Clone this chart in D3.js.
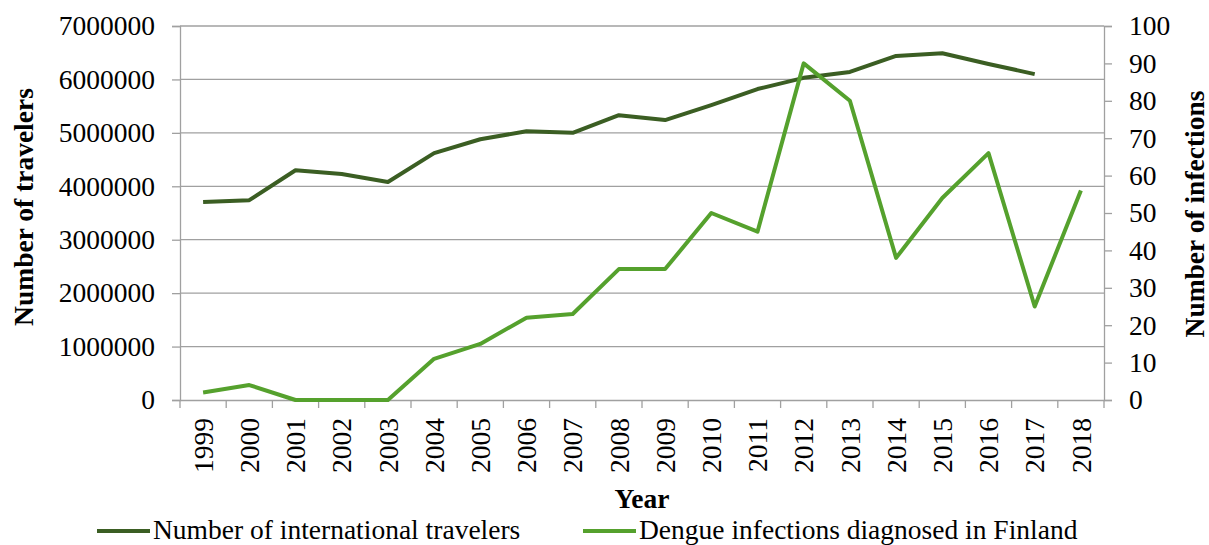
<!DOCTYPE html>
<html><head><meta charset="utf-8">
<script src="https://cdn.jsdelivr.net/npm/d3@7"></script>
<style>body{margin:0;background:#fff}svg{display:block}text{font-family:"Liberation Serif","Times New Roman",serif;fill:#000}</style>
</head><body><svg id="c" width="1209" height="545"></svg>
<script>
const years = ["1999","2000","2001","2002","2003","2004","2005","2006","2007","2008","2009","2010","2011","2012","2013","2014","2015","2016","2017","2018"];
const travelers = [3706000,3740000,4300000,4230000,4080000,4620000,4880000,5030000,5000000,5330000,5240000,5520000,5820000,6030000,6140000,6440000,6490000,6290000,6100000,null];
const dengue = [2,4,0,0,0,11,15,22,23,35,35,50,45,90,80,38,54,66,25,56];
const leftTicks = [0,1000000,2000000,3000000,4000000,5000000,6000000,7000000];
const rightTicks = [0,10,20,30,40,50,60,70,80,90,100];
const seriesNames = ["Number of international travelers","Dengue infections diagnosed in Finland"];
const colors = ["#3b5e23","#55a12d"];

const svg = d3.select("#c");
const L=180, R=1104, T=26, B=400;
const FS=27.5;
const x = d3.scaleBand().domain(years).range([L,R]);
const yL = d3.scaleLinear().domain([0,7000000]).range([B,T]);
const yR = d3.scaleLinear().domain([0,100]).range([B,T]);
const grid="#a0a0a0";

svg.append("g").selectAll("line").data(leftTicks.slice(1)).join("line")
  .attr("x1",L).attr("x2",R).attr("y1",d=>yL(d)).attr("y2",d=>yL(d))
  .attr("stroke",grid).attr("stroke-width",1.3);

const gl = svg.append("g").attr("transform",`translate(${L},0)`)
  .call(d3.axisLeft(yL).tickValues(leftTicks).tickFormat(d3.format("d")).tickSize(8).tickPadding(17));
gl.selectAll("text").attr("font-size",FS).style("font-family","Liberation Serif");
const gr = svg.append("g").attr("transform",`translate(${R},0)`)
  .call(d3.axisRight(yR).tickValues(rightTicks).tickSize(8).tickPadding(17));
gr.selectAll("text").attr("font-size",FS).style("font-family","Liberation Serif");
const gb = svg.append("g").attr("transform",`translate(0,${B})`)
  .call(d3.axisBottom(x).tickSize(0).tickPadding(0));
gb.selectAll(".tick line").remove();
gb.selectAll("text").attr("font-size",FS).style("font-family","Liberation Serif")
  .attr("transform","rotate(-90)").attr("text-anchor","end").attr("x",-18).attr("y",0).attr("dy","0.35em");
gb.selectAll(".tick").append("line").attr("x1",x.bandwidth()/2).attr("x2",x.bandwidth()/2).attr("y1",0).attr("y2",8);
svg.append("line").attr("x1",L).attr("x2",L).attr("y1",B).attr("y2",B+8);
[gl,gr,gb].forEach(g=>{g.selectAll("path").attr("stroke",grid).attr("stroke-width",1.3);g.selectAll("line").attr("stroke",grid).attr("stroke-width",1.3);});
svg.selectAll("line").filter(function(){return !this.getAttribute("stroke")}).attr("stroke",grid).attr("stroke-width",1.3);

const cx = d=>x(d)+x.bandwidth()/2;
const line1 = d3.line().defined(d=>d[1]!=null).x(d=>cx(d[0])).y(d=>yL(d[1]));
const line2 = d3.line().x(d=>cx(d[0])).y(d=>yR(d[1]));
svg.append("path").datum(years.map((y,i)=>[y,travelers[i]])).attr("d",line1)
  .attr("fill","none").attr("stroke",colors[0]).attr("stroke-width",4).attr("stroke-linejoin","round");
svg.append("path").datum(years.map((y,i)=>[y,dengue[i]])).attr("d",line2)
  .attr("fill","none").attr("stroke",colors[1]).attr("stroke-width",4).attr("stroke-linejoin","round");

svg.append("text").attr("transform","translate(33,207) rotate(-90)").attr("text-anchor","middle")
  .attr("font-size",FS).attr("font-weight","bold").text("Number of travelers");
svg.append("text").attr("transform","translate(1204,214) rotate(-90)").attr("text-anchor","middle")
  .attr("font-size",FS).attr("font-weight","bold").text("Number of infections");
svg.append("text").attr("x",642).attr("y",508).attr("text-anchor","middle")
  .attr("font-size",FS).attr("font-weight","bold").text("Year");

const lx=[97,583];
seriesNames.forEach((n,i)=>{
  svg.append("line").attr("x1",lx[i]).attr("x2",lx[i]+53).attr("y1",531).attr("y2",531)
    .attr("stroke",colors[i]).attr("stroke-width",4);
  svg.append("text").attr("x",lx[i]+56).attr("y",539).attr("font-size",FS).text(n);
});
</script></body></html>
